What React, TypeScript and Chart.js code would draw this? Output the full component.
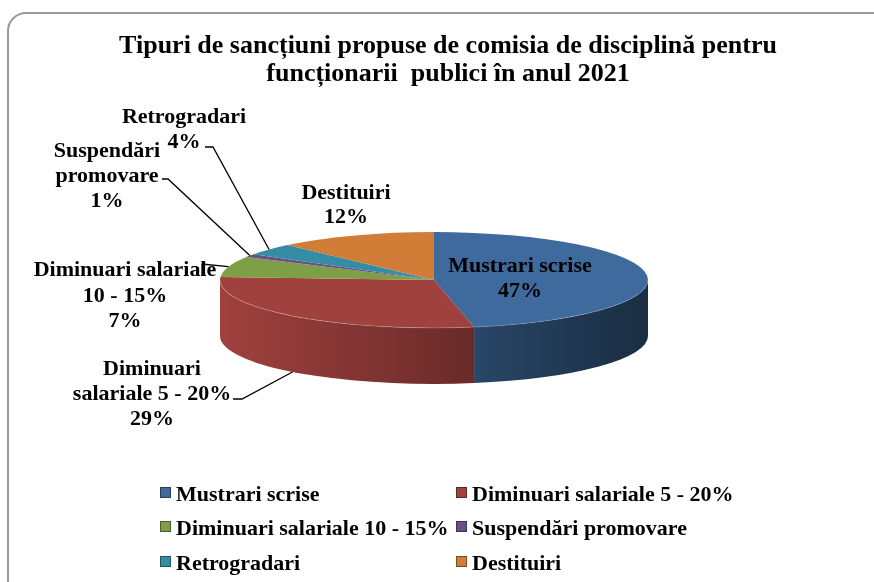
import { useEffect, useRef } from "react";
import { Chart, registerables } from "chart.js";

Chart.register(...registerables);

// ---------- data ----------
const titleLines = [
  "Tipuri de sancțiuni propuse de comisia de disciplină pentru",
  "funcționarii  publici în anul 2021",
];
const categories = [
  "Mustrari scrise",
  "Diminuari salariale 5 - 20%",
  "Diminuari salariale 10 - 15%",
  "Suspendări promovare",
  "Retrogradari",
  "Destituiri",
];
const percentValues = [47, 29, 7, 1, 4, 12];
const sliceColors = ["#3F6A9E", "#A0413E", "#7F9F46", "#6A4E8A", "#348CA5", "#D27D37"];

// ---------- layout / style ----------
const FONT = '"Liberation Serif", "Times New Roman", serif';
const TILT = 0.224;
const DEPTH = 56;

// words per line for the category part of each data label, then the percent line
const labelLayout = [
  { wrap: [2], x: 520, y: 272, lh: 25, size: 22, leader: null },
  { wrap: [1, 4], x: 152, y: 375, lh: 25, size: 22, leader: { pts: [[233, 399], [242, 399]], side: true } },
  { wrap: [2, 3], x: 125, y: 276, lh: 25.5, size: 22, leader: { pts: [[202, 275], [202, 264]], side: false } },
  { wrap: [1, 1], x: 107, y: 157, lh: 25, size: 22, leader: { pts: [[162, 179], [168, 179]], side: false } },
  { wrap: [1], x: 184, y: 123, lh: 25, size: 22, leader: { pts: [[205, 147], [213, 147]], side: false } },
  { wrap: [1], x: 346, y: 199, lh: 24, size: 22, leader: null },
];

function shade(hex: string, f: number) {
  const n = parseInt(hex.slice(1), 16);
  const r = Math.round(((n >> 16) & 255) * f);
  const g = Math.round(((n >> 8) & 255) * f);
  const b = Math.round((n & 255) * f);
  return `rgb(${r},${g},${b})`;
}

function geom(chart: any) {
  const arcs = chart.getDatasetMeta(0).data as any[];
  const a = arcs[0];
  return { arcs, cx: a.x, cy: a.y, R: a.outerRadius, ry: a.outerRadius * TILT };
}

const pie3d = {
  id: "pie3d",
  beforeDatasetsDraw(chart: any) {
    const ctx = chart.ctx as CanvasRenderingContext2D;
    const { arcs, cx, cy, R, ry } = geom(chart);
    arcs.forEach((arc: any, i: number) => {
      const a1 = Math.max(arc.startAngle, 0);
      const a2 = Math.min(arc.endAngle, Math.PI);
      if (a2 <= a1) return;
      const g = ctx.createLinearGradient(cx - R, 0, cx + R, 0);
      g.addColorStop(0, shade(sliceColors[i], 1.0));
      g.addColorStop(1, shade(sliceColors[i], 0.42));
      ctx.beginPath();
      ctx.ellipse(cx, cy, R, ry, 0, a1, a2, false);
      ctx.ellipse(cx, cy + DEPTH, R, ry, 0, a2, a1, true);
      ctx.closePath();
      ctx.fillStyle = g;
      ctx.fill();
    });
    ctx.save();
    ctx.translate(cx, cy);
    ctx.scale(1, TILT);
    ctx.translate(-cx, -cy);
  },
  afterDatasetsDraw(chart: any) {
    const ctx = chart.ctx as CanvasRenderingContext2D;
    ctx.restore();
    const { cx, cy, R, ry } = geom(chart);
    ctx.save();
    ctx.beginPath();
    ctx.ellipse(cx, cy, R, ry, 0, 0, Math.PI, false);
    ctx.strokeStyle = "rgba(255,255,255,0.18)";
    ctx.lineWidth = 1;
    ctx.stroke();
    ctx.restore();
  },
};

const decorations = {
  id: "decorations",
  afterDraw(chart: any) {
    const ctx = chart.ctx as CanvasRenderingContext2D;
    const { arcs, cx, cy, R, ry } = geom(chart);
    ctx.save();

    // card border
    ctx.beginPath();
    (ctx as any).roundRect(8, 13, 900, 600, 18);
    ctx.strokeStyle = "#9a9a9a";
    ctx.lineWidth = 2;
    ctx.stroke();

    // title
    ctx.fillStyle = "#000";
    ctx.textAlign = "center";
    ctx.textBaseline = "alphabetic";
    ctx.font = `bold 26px ${FONT}`;
    ctx.fillText(titleLines[0], 448, 53);
    ctx.fillText(titleLines[1], 448, 81);

    // data labels
    labelLayout.forEach((lay, i) => {
      const words = categories[i].split(" ");
      const lines: string[] = [];
      let k = 0;
      lay.wrap.forEach((n) => {
        lines.push(words.slice(k, k + n).join(" "));
        k += n;
      });
      lines.push(`${percentValues[i]}%`);
      ctx.font = `bold ${lay.size}px ${FONT}`;
      ctx.fillStyle = "#000";
      lines.forEach((t, j) => ctx.fillText(t, lay.x, lay.y + j * lay.lh));

      if (lay.leader) {
        const arc = arcs[i];
        const m = (arc.startAngle + arc.endAngle) / 2;
        const ex = cx + R * Math.cos(m);
        const ey = cy + ry * Math.sin(m) + (lay.leader.side ? DEPTH : 0);
        ctx.beginPath();
        ctx.moveTo(lay.leader.pts[0][0], lay.leader.pts[0][1]);
        for (let p = 1; p < lay.leader.pts.length; p++) ctx.lineTo(lay.leader.pts[p][0], lay.leader.pts[p][1]);
        ctx.lineTo(ex, ey);
        ctx.strokeStyle = "#000";
        ctx.lineWidth = 1.3;
        ctx.stroke();
      }
    });

    // legend
    const colMarker = [160, 456];
    const rowBase = [501, 535, 570];
    ctx.font = `bold 22px ${FONT}`;
    ctx.textAlign = "left";
    categories.forEach((c, i) => {
      const col = i % 2;
      const row = Math.floor(i / 2);
      const mx = colMarker[col];
      const by = rowBase[row];
      ctx.fillStyle = sliceColors[i];
      ctx.fillRect(mx, by - 14, 11, 11);
      ctx.strokeStyle = shade(sliceColors[i], 0.6);
      ctx.lineWidth = 1;
      ctx.strokeRect(mx + 0.5, by - 13.5, 10, 10);
      ctx.fillStyle = "#000";
      ctx.fillText(c, mx + 16, by);
    });

    ctx.restore();
  },
};

export default function App() {
  const ref = useRef<HTMLCanvasElement>(null);
  useEffect(() => {
    if (!ref.current) return;
    const chart = new Chart(ref.current, {
      type: "pie",
      data: {
        labels: categories,
        datasets: [
          {
            data: percentValues,
            backgroundColor: sliceColors,
            borderWidth: 0,
          },
        ],
      },
      options: {
        animation: false,
        responsive: false,
        events: [],
        layout: { padding: { left: 220, right: 226, top: 66, bottom: 88 } },
        plugins: {
          legend: { display: false },
          title: { display: false },
          tooltip: { enabled: false },
        },
      },
      plugins: [pie3d, decorations],
    });
    return () => chart.destroy();
  }, []);
  return (
    <div style={{ position: "fixed", left: 0, top: 0, width: 874, height: 582, background: "#fff" }}>
      <canvas ref={ref} width={874} height={582} style={{ display: "block", width: 874, height: 582 }} />
    </div>
  );
}
